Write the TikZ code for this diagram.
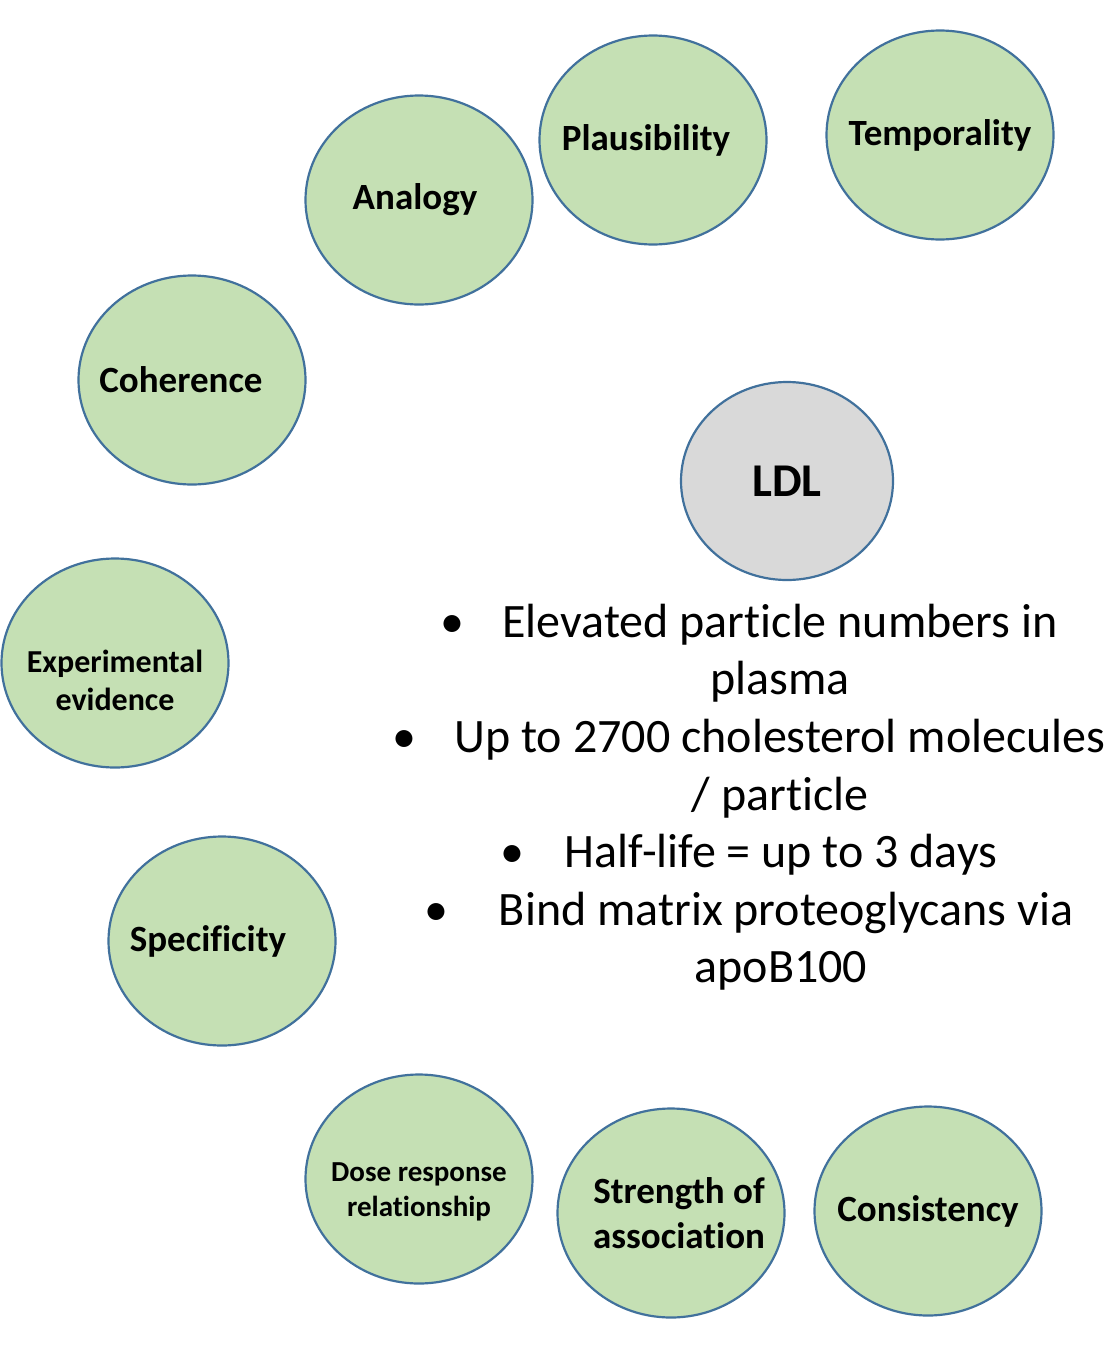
\documentclass[tikz,border=0pt]{standalone}
\usepackage{fontspec}
\setmainfont{Carlito}[Ligatures={NoCommon,NoRare}]
\usetikzlibrary{shapes.geometric, positioning}
\definecolor{factorgreen}{HTML}{C5E0B4}
\definecolor{ringblue}{HTML}{41719C}
\definecolor{ldlgray}{HTML}{D9D9D9}

\begin{document}
\begin{tikzpicture}[
    x=1pt, y=-1pt,
    factor/.style={ellipse, draw=ringblue, fill=#1, line width=2.2pt,
                   minimum width=227pt, minimum height=209pt, inner sep=0pt},
    factor/.default=factorgreen,
    factorlabel/.style={align=center, inner sep=0pt,
                        font=\bfseries\fontsize{37}{45}\selectfont},
    smalllabel/.style={factorlabel, font=\bfseries\fontsize{#1}{#1}\selectfont},
    bodytext/.style={anchor=base, font=\fontsize{48}{58}\selectfont, inner sep=0pt},
    dot/.style={bodytext}
]
\useasboundingbox (0,0) rectangle (1114,1368);

% criteria round the page
\node[factor, label={[factorlabel]center:Temporality}] (temporality) at (940,135) {};
\node[factor, label={[factorlabel, xshift=-7pt]center:Plausibility}] (plausibility) at (653,140) {};
\node[factor, label={[factorlabel, xshift=-4pt]center:Analogy}] (analogy) at (419,200) {};
\node[factor, label={[factorlabel, xshift=-11pt]center:Coherence}] (coherence) at (192,380) {};
\node[factor, label={[smalllabel=32, yshift=-17pt]center:Experimental\\[6pt]evidence}] (experimental) at (115,663) {};
\node[factor, label={[factorlabel, xshift=-14pt]center:Specificity}] (specificity) at (222,941) {};
\node[factor, label={[smalllabel=29, yshift=-13pt]center:Dose response\\[6pt]relationship}] (dose) at (419,1179) {};
\node[factor, label={[factorlabel, xshift=8pt]center:Strength of\\association}] (strength) at (671,1213) {};
\node[factor, label={[factorlabel]center:Consistency}] (consistency) at (928,1211) {};

% centre
\node[factor=ldlgray, minimum width=212pt, minimum height=198pt,
      label={[factorlabel, font=\bfseries\fontsize{47}{56}\selectfont]center:LDL}] (ldl) at (787,481) {};

% bullet list
\node[dot] (dot1) at (452,637) {\textbullet};
\node[bodytext] (line1) at (780,637) {Elevated particle numbers in};
\node[bodytext] (line1b) at (780,694) {plasma};
\node[dot] (dot2) at (404,752) {\textbullet};
\node[bodytext] (line2) at (780,752) {Up to 2700 cholesterol molecules};
\node[bodytext] (line2b) at (780,810) {/ particle};
\node[dot] (dot3) at (512,867) {\textbullet};
\node[bodytext] (line3) at (781,867) {Half-life = up to 3 days};
\node[dot] (dot4) at (436,925) {\textbullet};
\node[bodytext] (line4) at (786,925) {Bind matrix proteoglycans via};
\node[bodytext] (line4b) at (781,982) {apoB100};

\end{tikzpicture}
\end{document}
